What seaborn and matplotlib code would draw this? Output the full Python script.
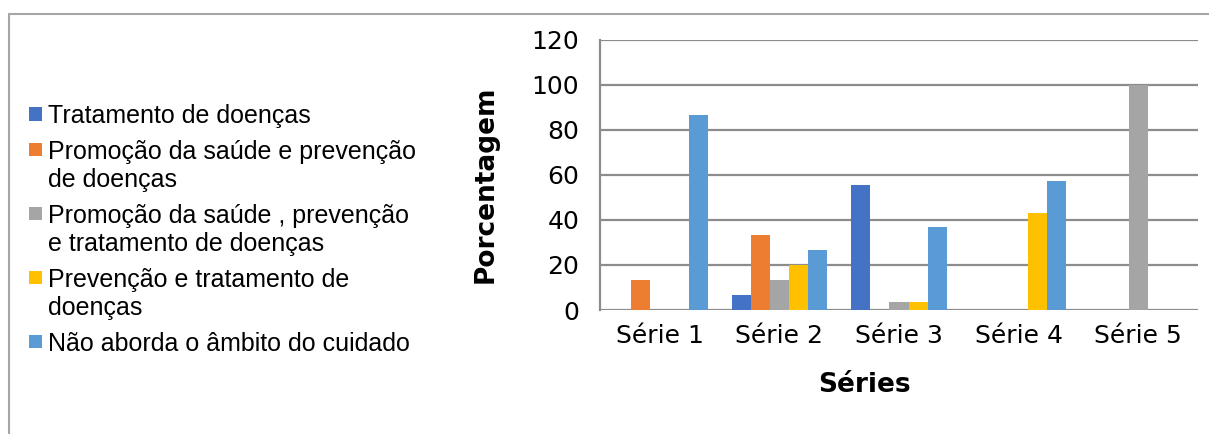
import pandas as pd
import matplotlib.pyplot as plt
import seaborn as sns
from matplotlib.patches import Rectangle
from matplotlib.lines import Line2D

# values (%)
series = ['Série 1', 'Série 2', 'Série 3', 'Série 4', 'Série 5']
categories = [
    'Tratamento de doenças',
    'Promoção da saúde e prevenção\nde doenças',
    'Promoção da saúde , prevenção\ne tratamento de doenças',
    'Prevenção e tratamento de\ndoenças',
    'Não aborda o âmbito do cuidado',
]
tratamento = [0, 6.7, 55.6, 0, 0]
promocao_prevencao = [13.3, 33.3, 0, 0, 0]
promocao_prev_trat = [0, 13.3, 3.7, 0, 100]
prevencao_trat = [0, 20.0, 3.7, 42.9, 0]
nao_aborda = [86.7, 26.7, 37.0, 57.1, 0]
colors = ['#4472C4', '#ED7D31', '#A5A5A5', '#FFC000', '#5B9BD5']

rows = []
for cat, vals in zip(categories, [tratamento, promocao_prevencao, promocao_prev_trat,
                                  prevencao_trat, nao_aborda]):
    for s, v in zip(series, vals):
        rows.append({'Série': s, 'Categoria': cat, 'Valor': v})
df = pd.DataFrame(rows)

sns.set_style('white')
plt.rcParams['font.family'] = ['DejaVu Sans']
plt.rcParams['text.color'] = 'black'
plt.rcParams['axes.labelcolor'] = 'black'
plt.rcParams['xtick.color'] = 'black'
plt.rcParams['ytick.color'] = 'black'

W, H = 1209, 434
fig = plt.figure(figsize=(W / 100, H / 100), dpi=100)
ax = fig.add_axes([600 / W, 1 - 310 / H, 598 / W, 270.5 / H])

sns.barplot(data=df, x='Série', y='Valor', hue='Categoria', hue_order=categories,
            palette=colors, width=0.8, saturation=1, linewidth=0, legend=False, ax=ax)

ax.set_ylim(0, 120)
ax.set_yticks(range(0, 121, 20))
ax.set_xlim(-0.5, 4.5)
ax.grid(axis='y', color='#8c8c8c', linewidth=1.6)
ax.set_axisbelow(True)
for side in ['top', 'right', 'bottom']:
    ax.spines[side].set_visible(False)
ax.spines['left'].set_color('#8c8c8c')
ax.spines['left'].set_linewidth(1.6)
ax.tick_params(axis='y', length=8, width=1.2, color='#8c8c8c', labelcolor='black',
               pad=7, labelsize=18)
ax.tick_params(axis='x', length=0, pad=10, labelsize=18)

ax.set_ylabel('Porcentagem', fontsize=19, fontweight='bold')
ax.yaxis.set_label_coords(-0.169, 0.466)
ax.set_xlabel('Séries', fontsize=19, fontweight='bold')
ax.xaxis.set_label_coords(0.443, -0.229)

# legend on the left, squares aligned with the first line of each entry
line_h, gap = 28.5, 7
y = 114
for cat, c in zip(categories, colors):
    lines = cat.split('\n')
    fig.add_artist(Rectangle((29 / W, 1 - (y + 6.5) / H), 13 / W, 13 / H,
                             facecolor=c, edgecolor='none'))
    for i, txt in enumerate(lines):
        fig.text(48 / W, 1 - (y + i * line_h) / H, txt, va='center_baseline', ha='left',
                 fontsize=18, family='Liberation Sans', color='black')
    y += len(lines) * line_h + gap

# outer chart border (top and left visible)
fig.add_artist(Line2D([9 / W, 9 / W], [0, 1 - 14 / H], color='#a6a6a6', linewidth=1.5))
fig.add_artist(Line2D([9 / W, 1], [1 - 14 / H, 1 - 14 / H], color='#a6a6a6', linewidth=1.5))

fig.savefig('out.png', dpi=100)
